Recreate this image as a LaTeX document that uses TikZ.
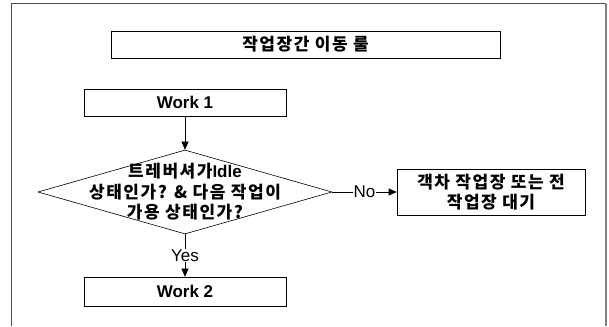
\documentclass[tikz,border=0pt]{standalone}
\usepackage{fontspec}
\setmainfont{Liberation Sans}
\newfontfamily\kofont[LetterSpace=9]{Noto Sans CJK KR}
\newfontfamily\lafont{Liberation Sans}
\usetikzlibrary{arrows.meta,shapes.geometric}

\begin{document}
\begin{tikzpicture}[x=1pt, y=1pt, >={Triangle[length=8pt,width=7pt]}, line width=0.6pt,
    box/.style={draw, rectangle, inner sep=0pt, font=\bfseries\fontsize{17}{20}\selectfont},
    kotext/.style={align=center, font=\kofont\bfseries\fontsize{17}{20.5}\selectfont},
    decision/.style={draw, diamond, inner sep=0pt, minimum width=294pt, minimum height=84pt},
    answer/.style={fill=white, inner sep=1pt, font=\fontsize{17}{20}\selectfont}]
    \useasboundingbox (0,0) rectangle (609,326);

    % Frame
    \draw [gray!60!black, line width=1pt] (11,0) -- (11,322) -- (606,322);
    \draw [gray, line width=2pt] (606,322) -- (606,0);

    % Nodes {title, work1, check, wait, work2}
    \node [box, kotext, minimum width=389pt, minimum height=27pt] (title) at (305.5,281.5) {작업장간 이동 룰};
    \node [box, minimum width=202pt, minimum height=27pt]          (work1) at (185,223.5)   {Work 1};
    \node [decision]                                               (check) at (185,134)     {};
    \node [kotext]                                                 (checktext) at (check.center) {트레버셔가{\lafont\bfseries Idle}\\상태인가? \& 다음 작업이\\가용 상태인가?};
    \node [box, kotext, minimum width=188pt, minimum height=46pt]  (wait)  at (491,134)     {객차 작업장 또는 전\\작업장 대기};
    \node [box, minimum width=202pt, minimum height=29pt]          (work2) at (185,34.5)    {Work 2};

    % Paths
    \path [->] (work1) edge                      (check);
    \path [->] (check) edge node [answer] {No}  (wait);
    \path [->] (check) edge node [answer] {Yes} (work2);

\end{tikzpicture}
\end{document}
